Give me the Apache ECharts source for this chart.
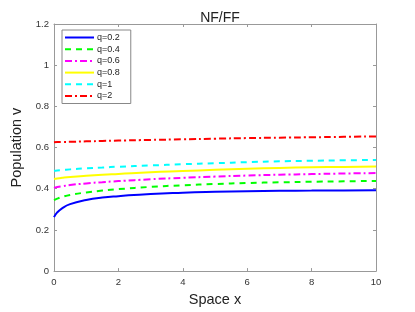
<!DOCTYPE html>
<html><head><meta charset="utf-8">
<script src="https://cdn.jsdelivr.net/npm/echarts@6/dist/echarts.min.js"></script>
<style>html,body{margin:0;padding:0;background:#fff}#c{width:415px;height:312px}</style>
</head><body><div id="c"></div>
<script>
const xs = [0, 0.1, 0.25, 0.5, 1, 1.5, 2, 3, 4, 5, 6, 7, 8, 9, 10];
const q02 = [0.262, 0.285, 0.305, 0.325, 0.345, 0.357, 0.364, 0.375, 0.381, 0.385, 0.388, 0.390, 0.391, 0.392, 0.393];
const q04 = [0.345, 0.352, 0.360, 0.370, 0.382, 0.391, 0.398, 0.409, 0.417, 0.423, 0.428, 0.431, 0.434, 0.436, 0.438];
const q06 = [0.404, 0.408, 0.412, 0.418, 0.426, 0.432, 0.437, 0.446, 0.453, 0.459, 0.464, 0.468, 0.471, 0.474, 0.476];
const q08 = [0.447, 0.450, 0.453, 0.457, 0.463, 0.468, 0.472, 0.480, 0.486, 0.492, 0.497, 0.501, 0.504, 0.506, 0.508];
const q1  = [0.487, 0.489, 0.491, 0.494, 0.499, 0.503, 0.507, 0.513, 0.519, 0.524, 0.529, 0.533, 0.536, 0.538, 0.540];
const q2  = [0.626, 0.627, 0.627, 0.628, 0.630, 0.632, 0.634, 0.637, 0.640, 0.643, 0.646, 0.648, 0.650, 0.652, 0.654];
const names = ['q=0.2','q=0.4','q=0.6','q=0.8','q=1','q=2'];
const seriesData = [q02, q04, q06, q08, q1, q2];
const colors = ['#0000ff','#00ff00','#ff00ff','#ffff00','#00ffff','#ff0000'];
const dashes = ['solid',[6,5],[7,3,2,3],'solid',[6,5],[7,3,2,3]];

const chart = echarts.init(document.getElementById('c'), null, {renderer:'canvas'});
const axisCol = '#999';
const labelCol = '#333';
const font = 'Liberation Sans, Arial, sans-serif';
chart.setOption({
  animation:false,
  backgroundColor:'#fff',
  title:{text:'NF/FF', left:215, top:6, textAlign:'center',
    textStyle:{fontSize:14, fontWeight:'normal', color:'#222', fontFamily:font}},
  grid:{left:54, right:39, top:24, bottom:36},
  legend:{orient:'vertical', left:62, top:30, data:names,
    itemWidth:29, itemHeight:9, itemGap:2.7, padding:[3,11,3,2],
    itemStyle:{opacity:0},
    backgroundColor:'#fff', borderColor:'#888', borderWidth:1, borderRadius:0,
    textStyle:{fontSize:9, color:'#222', fontFamily:font, padding:[0,0,0,-2]}},
  xAxis:[
    {type:'value', min:0, max:10, interval:2, position:'bottom',
     name:'Space x', nameLocation:'middle', nameGap:20,
     nameTextStyle:{fontSize:14.5, color:'#222', fontFamily:font},
     axisLine:{show:true, onZero:false, lineStyle:{color:axisCol}},
     axisTick:{show:true, inside:true, length:3, lineStyle:{color:axisCol}},
     axisLabel:{fontSize:9.5, color:labelCol, fontFamily:font, margin:6},
     splitLine:{show:false}},
    {type:'value', min:0, max:10, interval:2, position:'top',
     axisLine:{show:true, onZero:false, lineStyle:{color:axisCol}},
     axisTick:{show:true, inside:true, length:3, lineStyle:{color:axisCol}},
     axisLabel:{show:false}, splitLine:{show:false}}
  ],
  yAxis:[
    {type:'value', min:0, max:1.2, interval:0.2, position:'left',
     name:'Population v', nameLocation:'middle', nameGap:20,
     nameTextStyle:{fontSize:14.5, color:'#222', fontFamily:font},
     axisLine:{show:true, onZero:false, lineStyle:{color:axisCol}},
     axisTick:{show:true, inside:true, length:3, lineStyle:{color:axisCol}},
     axisLabel:{fontSize:9.5, color:labelCol, fontFamily:font, margin:5,
       formatter:v=>String(Math.round(v*10)/10)},
     splitLine:{show:false}},
    {type:'value', min:0, max:1.2, interval:0.2, position:'right',
     axisLine:{show:true, onZero:false, lineStyle:{color:axisCol}},
     axisTick:{show:true, inside:true, length:3, lineStyle:{color:axisCol}},
     axisLabel:{show:false}, splitLine:{show:false}}
  ],
  series: names.map((n,i)=>({
    name:n, type:'line', smooth:true, symbol:'none', xAxisIndex:0, yAxisIndex:0,
    data: xs.map((x,j)=>[x, seriesData[i][j]]),
    lineStyle:{color:colors[i], width:2, type:dashes[i]},
    itemStyle:{color:colors[i]}
  }))
});
</script></body></html>
